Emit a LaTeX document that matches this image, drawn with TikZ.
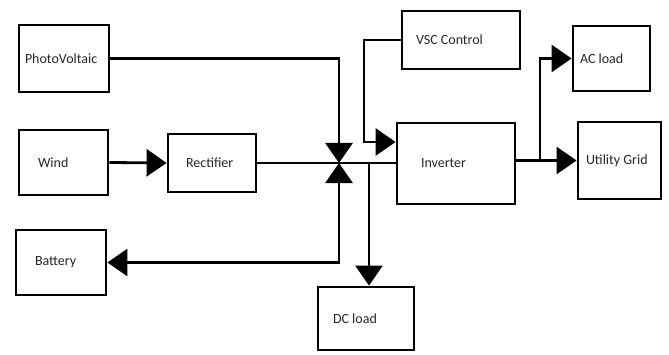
\documentclass[tikz,border=0pt]{standalone}
\usepackage{fontspec}
\setmainfont{Carlito}
\usetikzlibrary{arrows.meta}

\begin{document}
\begin{tikzpicture}[x=1pt,y=1pt,
    >={Triangle[length=20pt,width=27pt]},
    block/.style={draw,line width=2.8pt,inner ysep=0pt,align=flush left,text=black!85,
        font=\fontsize{14}{16}\selectfont},
    wire/.style={line width=2.8pt}]
    \useasboundingbox (0,0) rectangle (669,354);

    \node[block,text width=78pt,inner xsep=6pt,minimum height=67pt] (pv) at (64,295.5) {PhotoVoltaic};
    \node[block,text width=51pt,inner xsep=19pt,minimum height=65pt] (wind) at (63.5,191.5) {Wind};
    \node[block,text width=52pt,inner xsep=18pt,minimum height=58pt] (rect) at (212,191) {Rectifier};
    \node[block,text width=52pt,inner xsep=19pt,minimum height=65pt] (batt) at (61,91.5) {Battery};
    \node[block,text width=66pt,inner xsep=15pt,minimum height=63pt] (dcload) at (366,35.5) {DC load};
    \node[block,text width=90pt,inner xsep=14pt,minimum height=58pt] (vsc) at (461,314) {VSC Control};
    \node[block,text width=70pt,inner xsep=24pt,minimum height=81pt] (inv) at (456,190.5) {Inverter};
    \node[block,text width=63pt,inner xsep=7pt,minimum height=65pt] (acload) at (611.5,295.5) {AC load};
    \node[block,text width=67pt,inner xsep=8pt,minimum height=77pt] (grid) at (619.5,193.5) {Utility Grid};

    \coordinate (bus) at (339,191);
    \coordinate (dctap) at (369,191);
    \coordinate (vscbend) at (364,212);
    \coordinate (actap) at (540,193.5);

    \draw[wire,->] (pv.east) -| (bus);
    \draw[wire,->] (wind.east) -- (rect.west);
    \draw[wire] (rect.east) -- (rect.east -| inv.west);
    \draw[wire,<->] (batt.east) -| (bus);
    \draw[wire,->] (dctap) -- (dctap |- dcload.north);
    \draw[wire,->] (vsc.west) -| (vscbend) -- (vscbend -| inv.west);
    \draw[wire,->] (grid.west -| inv.east) -- (grid.west);
    \draw[wire,->] (actap) |- (acload.west);
\end{tikzpicture}
\end{document}
